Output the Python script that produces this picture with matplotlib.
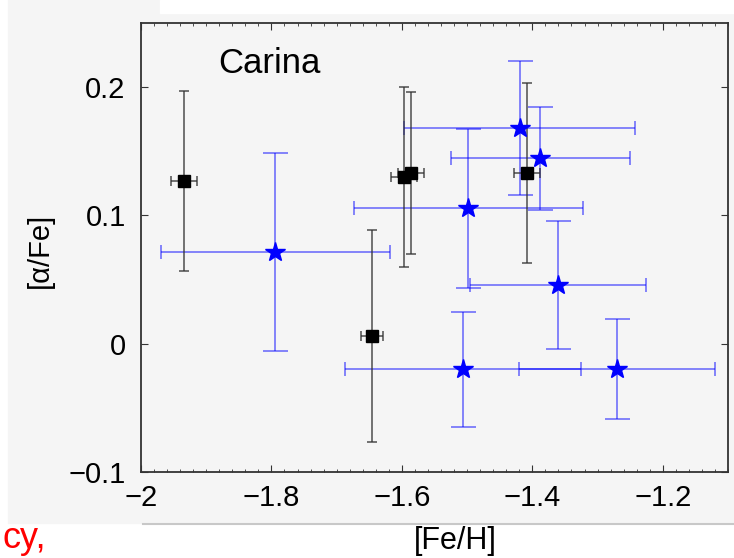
import matplotlib
matplotlib.use('Agg')
import matplotlib.pyplot as plt
from matplotlib.patches import Rectangle
from matplotlib.ticker import MultipleLocator

plt.rcParams['font.family'] = ['Liberation Sans', 'DejaVu Sans']

# black squares
sq_feh = [-1.934, -1.646, -1.597, -1.586, -1.408]
sq_afe = [0.127, 0.006, 0.130, 0.133, 0.133]
sq_yerr = [0.070, 0.083, 0.070, 0.063, 0.070]
sq_xerr = [0.020, 0.017, 0.020, 0.020, 0.020]

# blue stars
st_feh = [-1.794, -1.419, -1.388, -1.498, -1.360, -1.506, -1.270]
st_afe = [0.0715, 0.168, 0.1445, 0.1057, 0.046, -0.020, -0.020]
st_yerr = [0.077, 0.052, 0.040, 0.062, 0.050, 0.045, 0.039]
st_xerr = [0.176, 0.177, 0.137, 0.175, 0.135, 0.181, 0.150]

xticks = [-2, -1.8, -1.6, -1.4, -1.2]
xticklabels = ['\u22122', '\u22121.8', '\u22121.6', '\u22121.4', '\u22121.2']
yticks = [-0.1, 0, 0.1, 0.2]
yticklabels = ['\u22120.1', '0', '0.1', '0.2']

fig = plt.figure(figsize=(7.34, 5.58), dpi=100, facecolor='white')
bg = '#f5f5f5'
fig.patches.append(Rectangle((8 / 734, 1 - 523 / 558), 1, 523 / 558,
                             transform=fig.transFigure, color=bg, zorder=-10))
fig.patches.append(Rectangle((160 / 734, 1 - 13 / 558), 1, 13 / 558,
                             transform=fig.transFigure, color='white', zorder=-9))
fig.lines.append(plt.Line2D([143 / 734, 1], [1 - 524 / 558] * 2,
                            transform=fig.transFigure, color='#c8c8c8', lw=1.5))

ax = fig.add_axes([141 / 734, 1 - 472 / 558, 587 / 734, 449 / 558])
ax.set_facecolor(bg)

# blue error bars (vertical with wide caps, horizontal with short caps)
ax.errorbar(st_feh, st_afe, yerr=st_yerr, fmt='none', ecolor='blue',
            alpha=0.5, elinewidth=1.3, capsize=9, capthick=1.3, zorder=2)
ax.errorbar(st_feh, st_afe, xerr=st_xerr, fmt='none', ecolor='blue',
            alpha=0.5, elinewidth=1.3, capsize=5, capthick=1.3, zorder=2)
ax.errorbar(sq_feh, sq_afe, yerr=sq_yerr, xerr=sq_xerr, fmt='none',
            ecolor='#333333', alpha=0.8, elinewidth=1.2, capsize=3.5,
            capthick=1.2, zorder=3)
ax.plot(sq_feh, sq_afe, 's', color='black', markersize=8.5, zorder=4)
ax.plot(st_feh, st_afe, '*', color='blue', markersize=15, zorder=5)

ax.set_xlim(-2, -1.1)
ax.set_ylim(-0.1, 0.25)
ax.set_xticks(xticks)
ax.set_xticklabels(xticklabels)
ax.set_yticks(yticks)
ax.set_yticklabels(yticklabels)
ax.xaxis.set_minor_locator(MultipleLocator(0.02))
ax.tick_params(which='both', direction='in', top=True, right=True,
               labelsize=21, color='#333333')
ax.tick_params(axis='y', pad=11)
ax.tick_params(axis='x', pad=9)
ax.tick_params(which='major', length=5)
ax.tick_params(which='minor', length=2.5)
for s in ax.spines.values():
    s.set_color('#333333')
    s.set_linewidth(1.3)

ax.text(0.131, 0.91, 'Carina', fontsize=25, va='center', ha='left',
        transform=ax.transAxes)

fig.text(455 / 734, 1 - 541 / 558, '[Fe/H]', fontsize=22, ha='center',
         va='center')
fig.text(40 / 734, 1 - 250 / 558, '[\u03b1/Fe]', fontsize=21, ha='center',
         va='center', rotation=90)
fig.text(2 / 734, 1 - 538 / 558, 'cy,', fontsize=26, color='red',
         ha='left', va='center')

fig.savefig('out.png', dpi=100, facecolor=fig.get_facecolor())
